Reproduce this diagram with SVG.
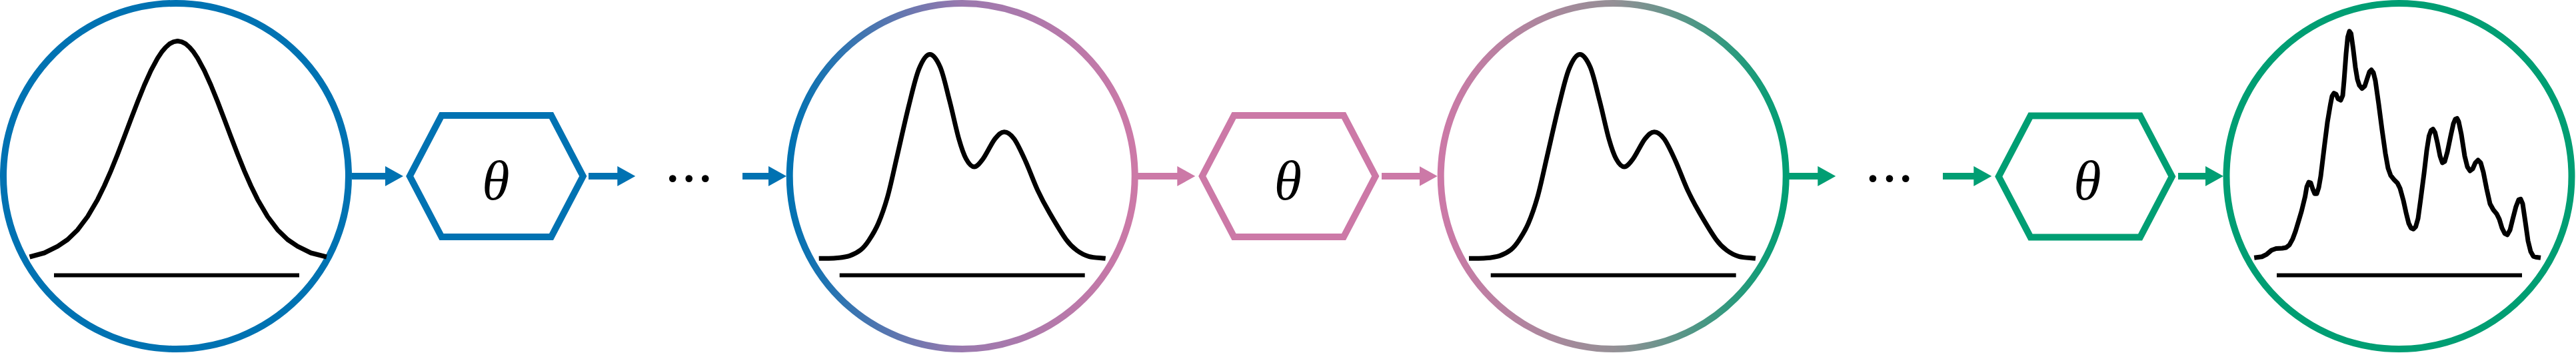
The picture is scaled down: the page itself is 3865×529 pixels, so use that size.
<svg xmlns="http://www.w3.org/2000/svg" width="3865" height="529" viewBox="0 0 3865 529">
<style>
.ring{fill:none;stroke-width:10}
.curve{fill:none;stroke:#000;stroke-width:7;stroke-linejoin:round}
.axis{fill:none;stroke:#000;stroke-width:6}
.hex{fill:none;stroke-width:10;stroke-linejoin:miter}
.lbl{font-family:"Liberation Serif",serif;font-style:italic;font-size:84px;fill:#000;text-anchor:middle}
.dots{font-family:"Liberation Serif",serif;font-size:90px;fill:#000;text-anchor:middle}
.blue{stroke:#0072B2}
.pink{stroke:#CC79A7}
.green{stroke:#009E73}
.arrow{fill:none;stroke-width:10}
</style>
<defs>
<linearGradient id="gBluePink" x1="0" y1="0" x2="1" y2="0">
<stop offset="0" stop-color="#0072B2"/>
<stop offset="0.5" stop-color="#9A79AE"/>
<stop offset="1" stop-color="#CC79A7"/>
</linearGradient>
<linearGradient id="gPinkGreen" x1="0" y1="0" x2="1" y2="0">
<stop offset="0" stop-color="#CC79A7"/>
<stop offset="0.5" stop-color="#959096"/>
<stop offset="1" stop-color="#009E73"/>
</linearGradient>
<marker id="hBlue" markerUnits="userSpaceOnUse" markerWidth="30" markerHeight="30" refX="2" refY="15" orient="auto"><path d="M0,0 L27,15 L0,30 Z" fill="#0072B2"/></marker>
<marker id="hPink" markerUnits="userSpaceOnUse" markerWidth="30" markerHeight="30" refX="2" refY="15" orient="auto"><path d="M0,0 L27,15 L0,30 Z" fill="#CC79A7"/></marker>
<marker id="hGreen" markerUnits="userSpaceOnUse" markerWidth="30" markerHeight="30" refX="2" refY="15" orient="auto"><path d="M0,0 L27,15 L0,30 Z" fill="#009E73"/></marker>
<polygon id="hexShape" points="-130,0 -82.25,-91 82.25,-91 130,0 82.25,91 -82.25,91"/>
<path id="bimodal" d="M-215,385 C-206.7,384.8 -197.7,385.2 -190,384.5 C-182.3,383.8 -175.3,383.1 -169,381 C-162.7,378.9 -156.8,375.8 -152,372 C-147.2,368.2 -144.3,364.5 -140,358 C-135.7,351.5 -130.7,343.8 -126,333 C-121.3,322.2 -116.7,309.5 -112,293 C-107.3,276.5 -103.3,256.7 -98,234 C-92.7,211.3 -85.5,178.8 -80,157 C-74.5,135.2 -70.2,115.7 -65,103 C-59.8,90.3 -54.3,81.5 -49,81 C-43.7,80.5 -38,88.5 -33,100 C-28,111.5 -23.7,132.2 -19,150 C-14.3,167.8 -9.2,192.5 -5,207 C-0.8,221.5 2.2,230.1 6,237 C9.8,243.9 13.8,248.5 18,248.5 C22.2,248.5 25.8,243.9 31,237 C36.2,230.1 43.7,213.75 49,207 C54.3,200.25 58.2,196.5 63,196.5 C67.8,196.5 72.7,199.75 78,207 C83.3,214.25 89.2,227.3 95,240 C100.8,252.7 107,270.2 113,283 C119,295.8 123.8,304.7 131,317 C138.2,329.3 149.2,347.7 156,357 C162.8,366.3 166.3,368.8 172,373 C177.7,377.2 182.8,380 190,382 C197.2,384 206.7,384 215,385"/>
</defs>

<g id="connectors">
<line class="arrow blue" x1="528" y1="264" x2="580" y2="264" marker-end="url(#hBlue)"/>
<line class="arrow blue" x1="883" y1="264" x2="928.3" y2="264" marker-end="url(#hBlue)"/>
<line class="arrow blue" x1="1114" y1="264" x2="1155" y2="264" marker-end="url(#hBlue)"/>
<line class="arrow pink" x1="1707" y1="264" x2="1768.3" y2="264" marker-end="url(#hPink)"/>
<line class="arrow pink" x1="2073" y1="264" x2="2131.7" y2="264" marker-end="url(#hPink)"/>
<line class="arrow green" x1="2684" y1="264" x2="2729.3" y2="264" marker-end="url(#hGreen)"/>
<line class="arrow green" x1="2915" y1="264" x2="2963.3" y2="264" marker-end="url(#hGreen)"/>
<line class="arrow green" x1="3268" y1="264" x2="3311" y2="264" marker-end="url(#hGreen)"/>
</g>

<g id="dist0">
<circle class="ring blue" cx="264" cy="264" r="259"/>
<polyline class="curve" points="44.5,385 66.5,379 86.5,369.2 101.5,359 116.5,344.4 131.5,324.5 146.5,298.9 156.5,278.5 166.5,255.8 176.5,231.1 186.5,205.1 196.5,178.5 206.5,152.4 216.5,127.7 226.5,105.6 236.5,87.1 242.5,78.1 248.5,71 254.5,65.7 260.5,62.6 266.5,61.5 272.5,62.6 278.5,65.7 284.5,71 290.5,78.1 296.5,87.1 306.5,105.6 316.5,127.7 326.5,152.4 336.5,178.5 346.5,205.1 356.5,231.1 366.5,255.8 376.5,278.5 386.5,298.9 401.5,324.5 416.5,344.4 431.5,359 446.5,369.2 466.5,379 490,385"/>
<line class="axis" x1="81" y1="412.5" x2="449" y2="412.5"/>
</g>

<g id="flow1">
<use href="#hexShape" class="hex blue" transform="translate(744.75,264)"/>
<text class="lbl" x="744" y="298.5">θ</text>
</g>

<g id="ellipsis1">
<text class="dots" x="1009.3 1033.7 1058.3" y="271.7">...</text>
</g>

<g id="dist1">
<circle class="ring" stroke="url(#gBluePink)" cx="1443.7" cy="264" r="259"/>
<use href="#bimodal" class="curve" transform="translate(1443.7,0) scale(1,1.006)"/>
<line class="axis" x1="1259.7" y1="412.5" x2="1627.7" y2="412.5"/>
</g>

<g id="flow2">
<use href="#hexShape" class="hex pink" transform="translate(1933.75,264)"/>
<text class="lbl" x="1932.5" y="298.5">θ</text>
</g>

<g id="dist2">
<circle class="ring" stroke="url(#gPinkGreen)" cx="2420.7" cy="264" r="259"/>
<use href="#bimodal" class="curve" transform="translate(2419,0) scale(1,1.006)"/>
<line class="axis" x1="2236.7" y1="412.5" x2="2604.7" y2="412.5"/>
</g>

<g id="ellipsis2">
<text class="dots" x="2810 2835 2859.3" y="271.7">...</text>
</g>

<g id="flow3">
<use href="#hexShape" class="hex green" transform="translate(3128.8,264.5)"/>
<text class="lbl" x="3132" y="299">θ</text>
</g>

<g id="dist3">
<circle class="ring green" cx="3599.5" cy="264" r="259"/>
<polyline class="curve" transform="scale(1,1.008)" points="3382.2,383.3 3393.7,381.7 3401,378 3408.1,372 3415,369.5 3424.3,369 3430,368 3435.1,364 3440,355 3444.1,344 3449,328 3453.2,314 3458.6,292 3461,278 3464,271 3467,272 3470,281 3473,288 3476,288 3479,279 3482,262 3487.4,218 3492,182 3496.4,156 3499,143 3501.8,138.5 3505,140 3508,147 3512,149 3515,142 3517,120 3520,80 3522.5,55 3525,46.5 3527.5,50 3530.6,72 3534,100 3537,118 3540,127 3544,131.5 3548,128 3552,116 3555,107 3558,104 3561,108 3564,120 3569,155 3574,193 3579,228 3583,250 3587,261 3592,267 3597,272 3601,280 3606,298 3610,316 3614,332 3617.5,339 3621,340.5 3624.5,337 3628,325 3632,296 3637,258 3641,224 3644.5,202 3647.5,194 3650.5,192 3653.5,197 3657,212 3661,232 3664.5,242 3668,240 3672,226 3677,202 3681,184 3684,177 3686.5,176 3689,181 3693,200 3698,232 3702,248 3706,254 3710,251 3714,242 3718,238 3722,242 3726,256 3731,281 3736,303 3741,312 3746,318 3750,326 3754,339 3758,347 3762,349 3766,342 3770,326 3775,307 3779,297 3782,296 3785,303 3789,330 3793,358 3797,374 3801,381 3806,382.5 3812,383.3"/>
<line class="axis" x1="3416" y1="412.5" x2="3784" y2="412.5"/>
</g>
</svg>
